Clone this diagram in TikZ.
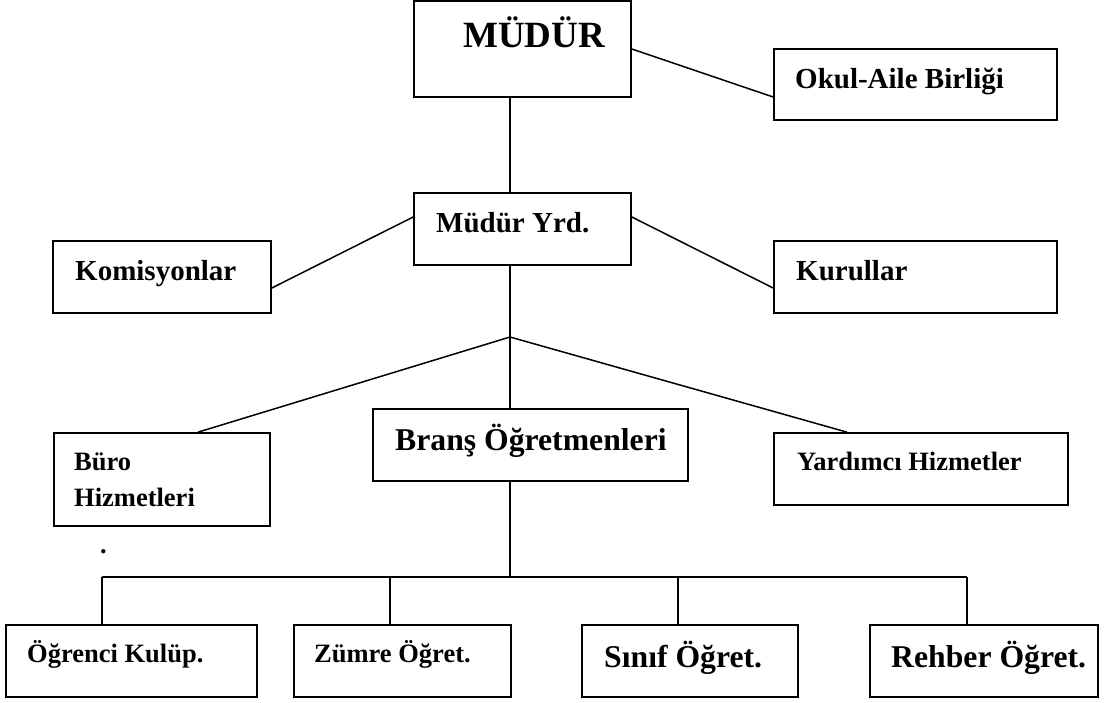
\documentclass[tikz,border=0pt]{standalone}
\usepackage{fontspec}
\setmainfont{Liberation Serif}
\begin{document}
\begin{tikzpicture}[%
        x=1pt, y=-1pt,
        box/.style={draw, line width=1.7pt, inner sep=0pt},
        conn/.style={line width=1.5pt},
        lbl/.style={anchor=base west, inner sep=0pt},
        fa/.style={font=\bfseries\fontsize{37}{44}\selectfont},
        fb/.style={font=\bfseries\fontsize{29}{35}\selectfont},
        fc/.style={font=\bfseries\fontsize{26.5}{36}\selectfont},
        fd/.style={font=\bfseries\fontsize{31.7}{38}\selectfont}
    ]
    \useasboundingbox (0,0) rectangle (1105,702);
    % boxes
    \node [box, minimum width=217, minimum height=96] (mudur) at (522.5,49) {};
    \node [box, minimum width=283, minimum height=71] (okul) at (915.5,84.5) {};
    \node [box, minimum width=217, minimum height=72] (yrd) at (522.5,229) {};
    \node [box, minimum width=218, minimum height=72] (komis) at (162,277) {};
    \node [box, minimum width=283, minimum height=72] (kurul) at (915.5,277) {};
    \node [box, minimum width=216, minimum height=93] (buro) at (162,479.5) {};
    \node [box, minimum width=315, minimum height=72] (brans) at (530.5,445) {};
    \node [box, minimum width=294, minimum height=72] (yard) at (921,469) {};
    \node [box, minimum width=251, minimum height=72] (ogr) at (131.5,661) {};
    \node [box, minimum width=217, minimum height=72] (zumre) at (402.5,661) {};
    \node [box, minimum width=216, minimum height=72] (sinif) at (690,661) {};
    \node [box, minimum width=228, minimum height=72] (rehber) at (984,661) {};
    % texts
    \node [lbl, fa] (tmudur) at (463,47) {MÜDÜR};
    \node [lbl, fb] (tokul) at (795,88) {Okul-Aile Birliği};
    \node [lbl, fb] (tyrd) at (436,232) {Müdür Yrd.};
    \node [lbl, fb] (tkomis) at (75,280) {Komisyonlar};
    \node [lbl, fb] (tkurul) at (796,280) {Kurullar};
    \node [lbl, fc] (tburo) at (74,470) {Büro};
    \node [lbl, fc] (tburob) at (74,506) {Hizmetleri};
    \node [lbl, fd] (tbrans) at (395,450) {Branş Öğretmenleri};
    \node [lbl, fc] (tyard) at (797,470) {Yardımcı Hizmetler};
    \node [lbl, fc] (togr) at (27,662) {Öğrenci Kulüp.};
    \node [lbl, fc] (tzumre) at (314,662) {Zümre Öğret.};
    \node [lbl, fd] (tsinif) at (604,667) {Sınıf Öğret.};
    \node [lbl, fd] (trehber) at (891,667) {Rehber Öğret.};
    \node [lbl, fc] (dot) at (100,553) {.};
    % connectors
    \coordinate (hub) at (510,337);
    \coordinate (bus) at (510,577);
    \draw [conn] (mudur.east) -- (okul.west |- 0,97);
    \draw [conn] (mudur.south -| hub) -- (yrd.north -| hub);
    \draw [conn] (komis.east |- 0,288) -- (yrd.west |- 0,217);
    \draw [conn] (yrd.east |- 0,217) -- (kurul.west |- 0,288);
    \draw [conn] (yrd.south -| hub) -- (hub);
    \draw [conn] (hub) -- (buro.north -| 198,0);
    \draw [conn] (hub) -- (brans.north -| hub);
    \draw [conn] (hub) -- (yard.north -| 847,0);
    \draw [conn] (brans.south -| hub) -- (bus);
    \draw [conn] (bus -| 102,0) -- (bus -| 967,0);
    \foreach \b/\x in {ogr/102, zumre/390, sinif/678, rehber/967}
        \draw [conn] (\b.north -| \x,0) -- (bus -| \x,0);
\end{tikzpicture}
\end{document}
